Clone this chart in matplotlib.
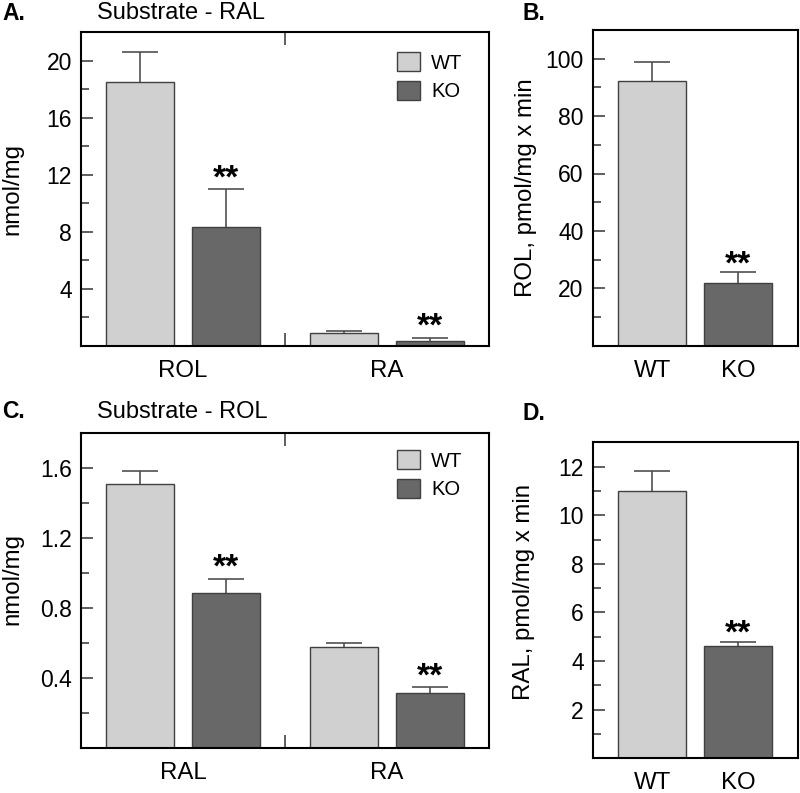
import matplotlib
matplotlib.use("Agg")
import matplotlib.pyplot as plt
from matplotlib.ticker import FixedLocator, FormatStrFormatter
import numpy as np

plt.rcParams['font.family'] = ['Liberation Sans', 'DejaVu Sans']

# ---- data ----
groups_A = ["ROL", "RA"]
wt_A = [18.5, 0.94]
wt_A_err = [2.1, 0.1]
ko_A = [8.37, 0.38]
ko_A_err = [2.6, 0.19]

samples_B = ["WT", "KO"]
vals_B = [92.2, 22.0]
err_B = [6.5, 3.6]

groups_C = ["RAL", "RA"]
wt_C = [1.51, 0.577]
wt_C_err = [0.07, 0.023]
ko_C = [0.887, 0.314]
ko_C_err = [0.078, 0.034]

samples_D = ["WT", "KO"]
vals_D = [11.0, 4.6]
err_D = [0.8, 0.2]

WT_COLOR = "#d0d0d0"
KO_COLOR = "#686868"
EDGE = "#404040"
ERRC = "#505050"
TICKC = "#333333"

TICK_FS = 16.5
LABEL_FS = 17.3
TITLE_FS = 17
LEG_FS = 14.5

fig = plt.figure(figsize=(8.0, 7.93), dpi=100)
W, H = 800, 793

def axes_px(l, t, r, b):
    return fig.add_axes([l / W, (H - b) / H, (r - l) / W, (b - t) / H])

axA = axes_px(81, 32, 489, 346)
axB = axes_px(592.7, 30, 797.5, 345.7)
axC = axes_px(81, 432.7, 489, 748.3)
axD = axes_px(592.7, 442.3, 797.5, 758.3)

BW = 0.335
OFF = 0.21
CAP = 13

def style(ax, ymax, major, minor):
    for s in ax.spines.values():
        s.set_linewidth(1.5)
        s.set_color("black")
    ax.set_ylim(0, ymax)
    ax.yaxis.set_major_locator(FixedLocator(major))
    ax.yaxis.set_minor_locator(FixedLocator(minor))
    ax.tick_params(axis='y', which='both', direction='in', left=True, right=False,
                   color=TICKC, width=1.1, labelsize=TICK_FS, pad=6.5)
    ax.tick_params(axis='y', which='major', length=8.6)
    ax.tick_params(axis='y', which='minor', length=5.8)

def upper_err(ax, x, v, e):
    cont = ax.errorbar(x, v, yerr=[np.zeros(len(v)), e], fmt="none", ecolor=ERRC,
                       elinewidth=1.2, capsize=CAP, capthick=1.2, zorder=1)
    caps = cont[1]
    if len(caps) == 2:
        caps[0].set_visible(False)

def stars(ax, x, y, off=1.5):
    ax.annotate("**", xy=(x, y), xytext=(0, off), textcoords="offset points",
                ha="center", va="baseline", fontsize=24, fontweight="bold")

def grouped(ax, groups, wt, wte, ko, koe, ymax, major, minor, title, letter, ylabel_y, leg_y, letter_y):
    x = np.arange(len(groups)) + 0.5
    b1 = ax.bar(x - OFF, wt, BW, color=WT_COLOR, edgecolor=EDGE, linewidth=1.0, label="WT", zorder=2)
    b2 = ax.bar(x + OFF, ko, BW, color=KO_COLOR, edgecolor=EDGE, linewidth=1.0, label="KO", zorder=2)
    upper_err(ax, x - OFF, wt, wte)
    upper_err(ax, x + OFF, ko, koe)
    ax.set_xlim(0, len(groups))
    style(ax, ymax, major, minor)
    ax.set_xticks(x)
    ax.set_xticklabels(groups)
    ax.xaxis.set_minor_locator(FixedLocator([1.0]))
    ax.tick_params(axis='x', which='major', length=0, labelsize=LABEL_FS, pad=10)
    ax.tick_params(axis='x', which='minor', direction='in', top=True, bottom=True,
                   length=9.4, width=1.1, color=TICKC)
    for xi, v, e in zip(x + OFF, ko, koe):
        stars(ax, xi, v + e)
    ax.set_ylabel("nmol/mg", fontsize=LABEL_FS)
    ax.yaxis.set_label_coords(-0.14, ylabel_y)
    ax.legend(handles=[b1, b2], labels=["WT", "KO"], frameon=False, fontsize=LEG_FS,
              handlelength=1.14, handleheight=1.1, handletextpad=0.55,
              labelspacing=0.4, borderpad=0, borderaxespad=0,
              loc="upper left", bbox_to_anchor=(0.775, leg_y))
    fig.text(97 / W, letter_y, title, fontsize=TITLE_FS, va="center", ha="left")
    fig.text(2 / W, letter_y, letter, fontsize=16.5, fontweight="bold", va="center", ha="left")

def single(ax, samples, vals, errs, ymax, major, minor, ylabel, letter, ylabel_x, ylabel_y, letter_y):
    x = np.array([0.5 - OFF, 0.5 + OFF])
    ax.bar(x, vals, BW, color=[WT_COLOR, KO_COLOR], edgecolor=EDGE, linewidth=1.0, zorder=2)
    upper_err(ax, x, vals, errs)
    ax.set_xlim(0, 1)
    style(ax, ymax, major, minor)
    ax.set_xticks(x)
    ax.set_xticklabels(samples)
    ax.tick_params(axis='x', which='both', length=0, labelsize=LABEL_FS, pad=10)
    stars(ax, x[1], vals[1] + errs[1], off=-1.0)
    ax.set_ylabel(ylabel, fontsize=LABEL_FS)
    ax.yaxis.set_label_coords(ylabel_x, ylabel_y)
    fig.text(522 / W, letter_y, letter, fontsize=16.5, fontweight="bold", va="center", ha="left")

grouped(axA, groups_A, wt_A, wt_A_err, ko_A, ko_A_err, 22,
        [4, 8, 12, 16, 20], [2, 6, 10, 14, 18],
        "Substrate - RAL", "A.", 0.5, 0.936, 1 - 13 / H)
grouped(axC, groups_C, wt_C, wt_C_err, ko_C, ko_C_err, 1.8,
        [0.4, 0.8, 1.2, 1.6], [0.2, 0.6, 1.0, 1.4],
        "Substrate - ROL", "C.", 0.536, 0.945, 1 - 412 / H)
axC.yaxis.set_major_formatter(FormatStrFormatter("%.1f"))

single(axB, samples_B, vals_B, err_B, 110, [20, 40, 60, 80, 100], [10, 30, 50, 70, 90],
       "ROL, pmol/mg x min", "B.", -0.272, 0.5, 1 - 13 / H)
single(axD, samples_D, vals_D, err_D, 13, [2, 4, 6, 8, 10, 12], [1, 3, 5, 7, 9, 11],
       "RAL, pmol/mg x min", "D.", -0.281, 0.527, 1 - 414 / H)

fig.savefig("out.png", dpi=100)
